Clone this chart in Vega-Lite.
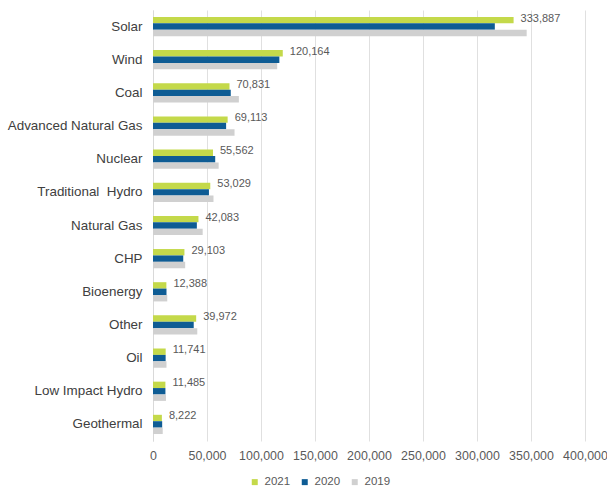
{
  "$schema": "https://vega.github.io/schema/vega-lite/v6.json",
  "autosize": "none",
  "padding": {"left": 153, "top": 10, "right": 22, "bottom": 46},
  "width": 432,
  "height": 431,
  "background": "white",
  "config": {
    "view": {"stroke": null},
    "font": "Liberation Sans"
  },
  "datasets": {
    "main": [
      {"source": "Solar", "year": "2021", "value": 333887},
      {"source": "Solar", "year": "2020", "value": 316500},
      {"source": "Solar", "year": "2019", "value": 346000},
      {"source": "Wind", "year": "2021", "value": 120164},
      {"source": "Wind", "year": "2020", "value": 117000},
      {"source": "Wind", "year": "2019", "value": 115000},
      {"source": "Coal", "year": "2021", "value": 70831},
      {"source": "Coal", "year": "2020", "value": 72000},
      {"source": "Coal", "year": "2019", "value": 79500},
      {"source": "Advanced Natural Gas", "year": "2021", "value": 69113},
      {"source": "Advanced Natural Gas", "year": "2020", "value": 67700},
      {"source": "Advanced Natural Gas", "year": "2019", "value": 75500},
      {"source": "Nuclear", "year": "2021", "value": 55562},
      {"source": "Nuclear", "year": "2020", "value": 57600},
      {"source": "Nuclear", "year": "2019", "value": 60800},
      {"source": "Traditional\u00a0 Hydro", "year": "2021", "value": 53029},
      {"source": "Traditional\u00a0 Hydro", "year": "2020", "value": 51800},
      {"source": "Traditional\u00a0 Hydro", "year": "2019", "value": 56000},
      {"source": "Natural Gas", "year": "2021", "value": 42083},
      {"source": "Natural Gas", "year": "2020", "value": 40600},
      {"source": "Natural Gas", "year": "2019", "value": 46000},
      {"source": "CHP", "year": "2021", "value": 29103},
      {"source": "CHP", "year": "2020", "value": 28000},
      {"source": "CHP", "year": "2019", "value": 29800},
      {"source": "Bioenergy", "year": "2021", "value": 12388},
      {"source": "Bioenergy", "year": "2020", "value": 12500},
      {"source": "Bioenergy", "year": "2019", "value": 13200},
      {"source": "Other", "year": "2021", "value": 39972},
      {"source": "Other", "year": "2020", "value": 37700},
      {"source": "Other", "year": "2019", "value": 41000},
      {"source": "Oil", "year": "2021", "value": 11741},
      {"source": "Oil", "year": "2020", "value": 11700},
      {"source": "Oil", "year": "2019", "value": 12500},
      {"source": "Low Impact Hydro", "year": "2021", "value": 11485},
      {"source": "Low Impact Hydro", "year": "2020", "value": 11500},
      {"source": "Low Impact Hydro", "year": "2019", "value": 12000},
      {"source": "Geothermal", "year": "2021", "value": 8222},
      {"source": "Geothermal", "year": "2020", "value": 8500},
      {"source": "Geothermal", "year": "2019", "value": 9000}
    ]
  },
  "data": {"name": "main"},
  "encoding": {
    "y": {
      "field": "source",
      "type": "nominal",
      "sort": null,
      "scale": {"paddingInner": 0.42, "paddingOuter": 0.21},
      "axis": {
        "title": null,
        "ticks": false,
        "domainColor": "#d9d9d9",
        "labelFontSize": 13.4,
        "labelColor": "#404040",
        "labelPadding": 11,
        "labelLimit": 200
      }
    }
  },
  "layer": [
    {
      "mark": {"type": "bar"},
      "encoding": {
        "x": {
          "field": "value",
          "type": "quantitative",
          "scale": {"domain": [0, 400000]},
          "axis": {
            "title": null,
            "values": [0, 50000, 100000, 150000, 200000, 250000, 300000, 350000, 400000],
            "format": ",d",
            "ticks": false,
            "domain": false,
            "gridColor": "#e0e0e0",
            "labelFontSize": 12.4,
            "labelColor": "#595959",
            "labelPadding": 8,
            "labelOverlap": false,
            "labelFlush": false
          }
        },
        "yOffset": {"field": "year", "type": "nominal", "sort": ["2021", "2020", "2019"], "scale": {"paddingInner": 0, "paddingOuter": 0}},
        "color": {
          "field": "year",
          "type": "nominal",
          "sort": ["2021", "2020", "2019"],
          "scale": {"domain": ["2021", "2020", "2019"], "range": ["#c4d94a", "#0e5c94", "#d0d0d0"]},
          "legend": {
            "title": null,
            "orient": "none",
            "direction": "horizontal",
            "legendX": 96,
            "legendY": 466,
            "symbolType": "square",
            "symbolSize": 36,
            "symbolStrokeWidth": 0,
            "labelFontSize": 11.5,
            "labelColor": "#595959",
            "labelOffset": 4,
            "columnPadding": 8,
            "padding": 0
          }
        }
      }
    },
    {
      "transform": [{"filter": "datum.year === '2021'"}],
      "mark": {"type": "text", "align": "left", "baseline": "middle", "dx": 7, "dy": -8, "fontSize": 11, "color": "#595959"},
      "encoding": {
        "x": {"field": "value", "type": "quantitative"},
        "text": {"field": "value", "type": "quantitative", "format": ",d"}
      }
    }
  ]
}
